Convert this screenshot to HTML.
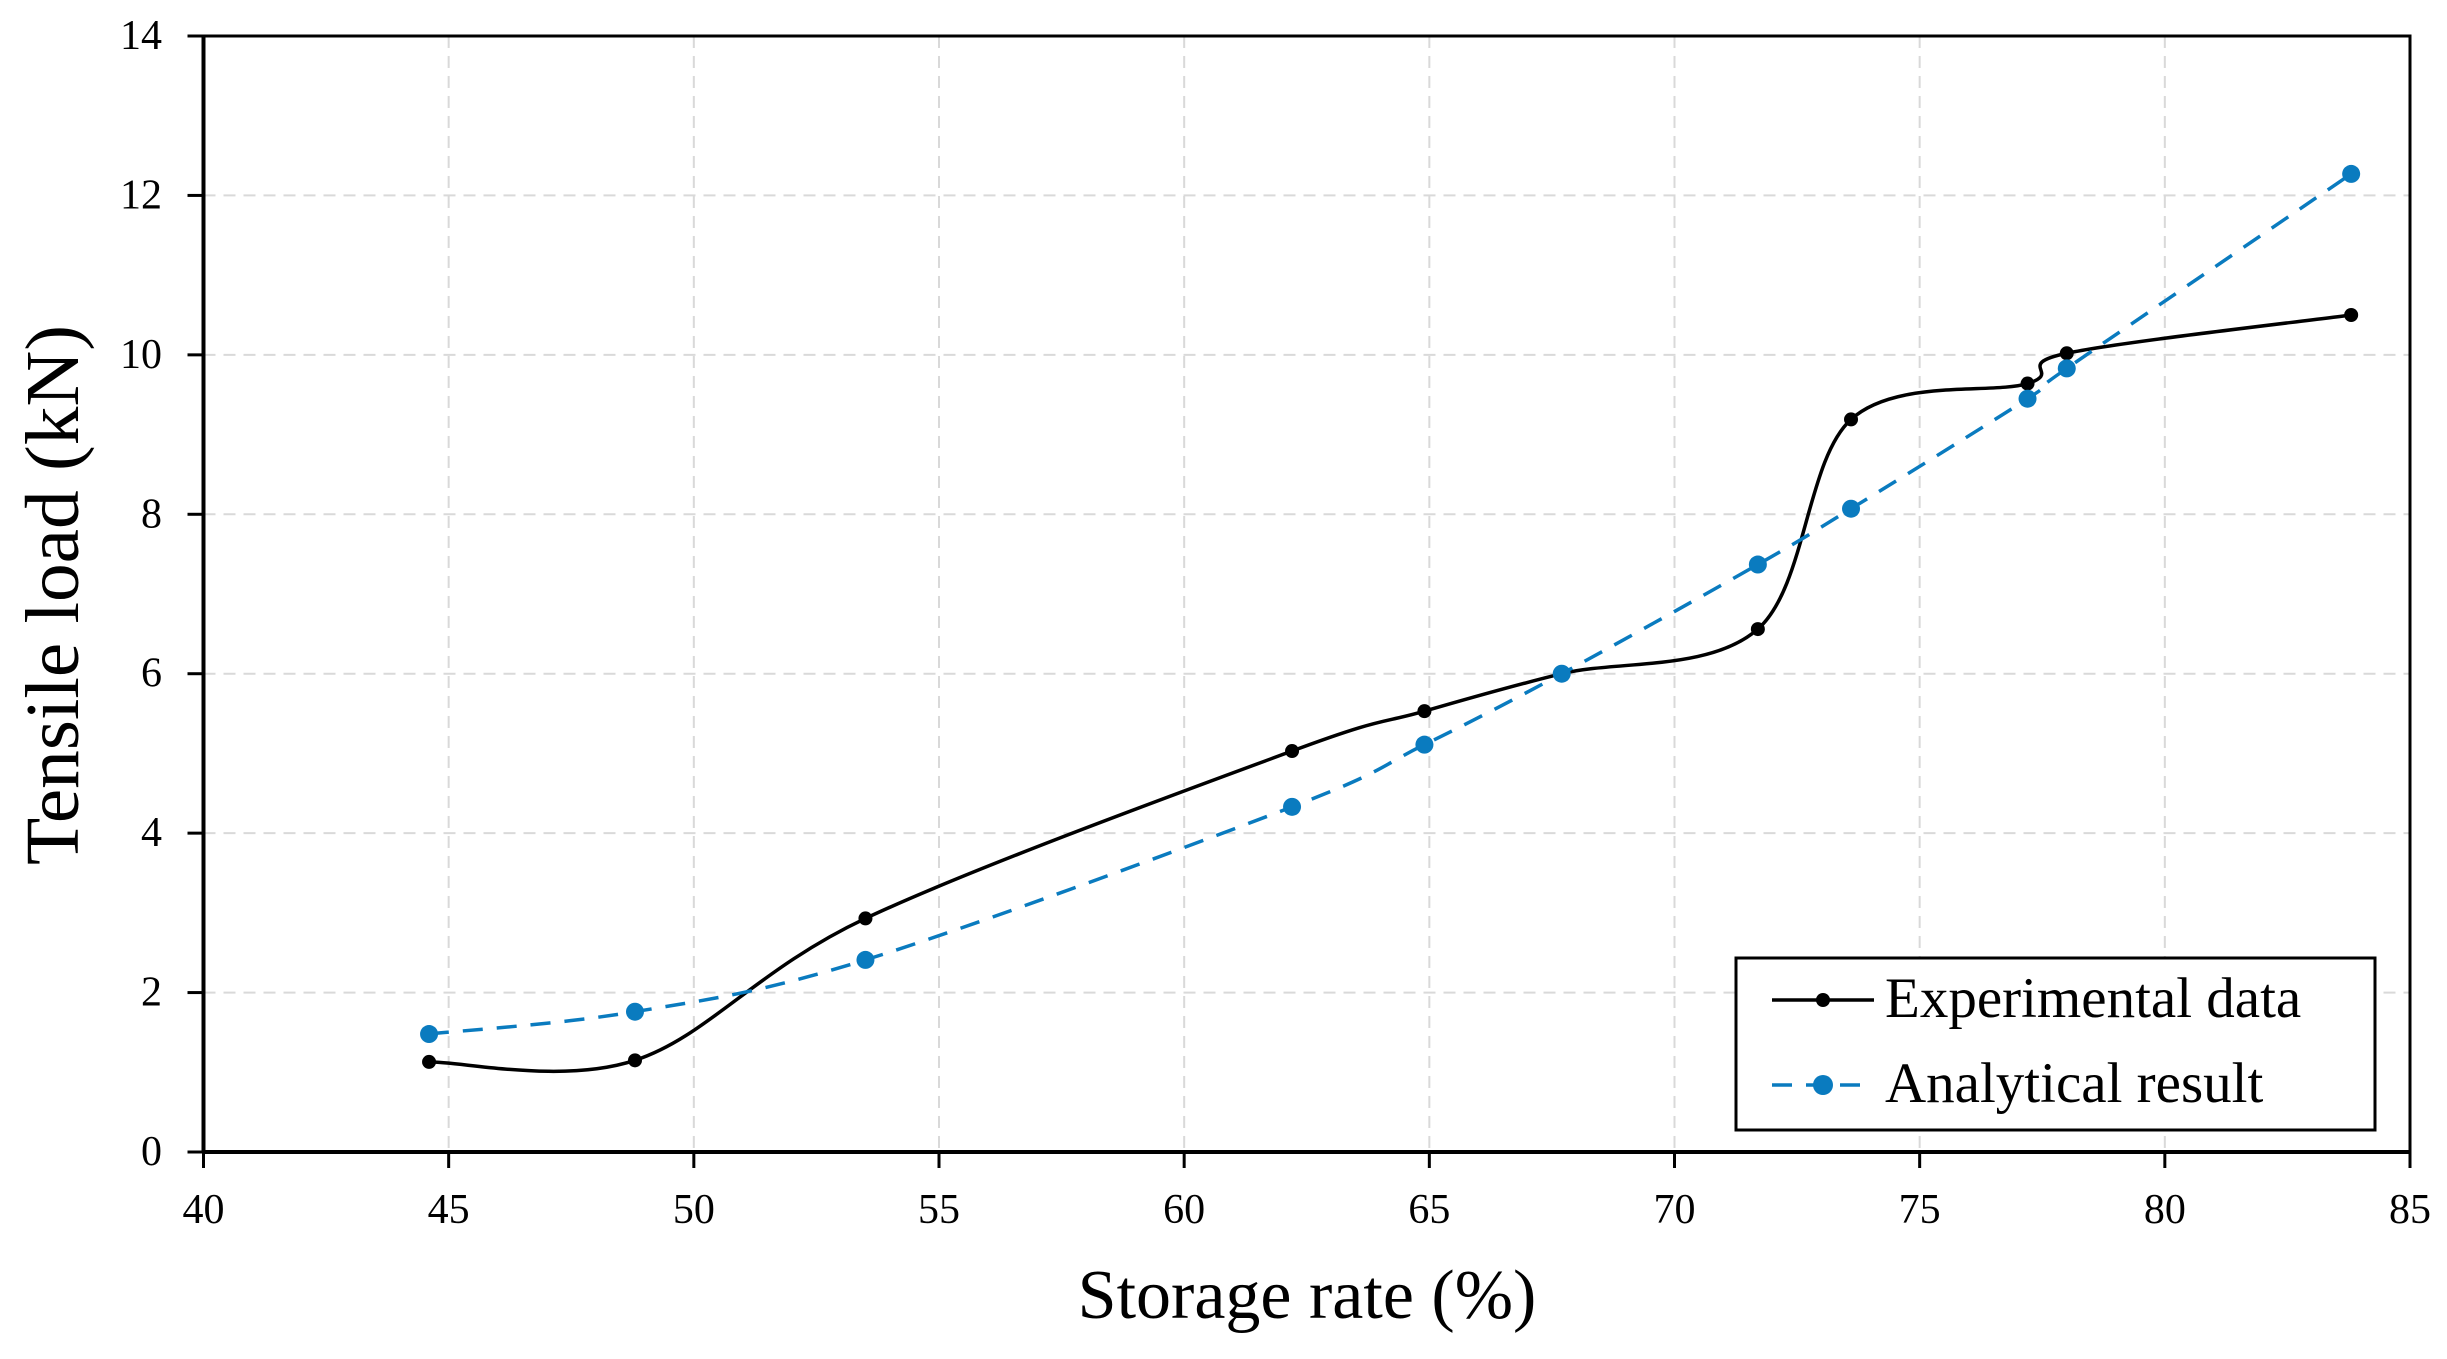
<!DOCTYPE html>
<html><head><meta charset="utf-8"><style>
html,body{margin:0;padding:0;background:#fff;}
svg{display:block;font-family:"Liberation Serif",serif;}
</style></head><body>
<svg id="chart" width="2447" height="1359" viewBox="0 0 2447 1359" xmlns="http://www.w3.org/2000/svg">
<rect width="2447" height="1359" fill="#fff"/>
<g id="grid"></g>
<g id="axes"></g>
<g id="series"></g>
<text x="1307" y="1318" font-size="70" text-anchor="middle">Storage rate (%)</text>
<text transform="translate(78,595) rotate(-90)" font-size="76" text-anchor="middle" textLength="540" lengthAdjust="spacingAndGlyphs">Tensile load (kN)</text>
<g>
<rect x="1736" y="958" width="639" height="172" fill="#fff" stroke="#000" stroke-width="3"/>
<g>
<line x1="1772" y1="1000" x2="1874" y2="1000" stroke="#000" stroke-width="3.5"/>
<circle cx="1823" cy="1000" r="7" fill="#000"/>
<text x="1885" y="1017" font-size="57">Experimental data</text>
</g>
<g>
<line x1="1772" y1="1085" x2="1874" y2="1085" stroke="#0a7bbf" stroke-width="3.5" stroke-dasharray="20,14"/>
<circle cx="1823" cy="1085" r="10" fill="#0a7bbf"/>
<text x="1885" y="1102" font-size="57">Analytical result</text>
</g>
</g>
</svg>
<script>
const xValues = [44.6, 48.8, 53.5, 62.2, 64.9, 67.7, 71.7, 73.6, 77.2, 78.0, 83.8];
const experimental = [1.13, 1.15, 2.93, 5.03, 5.53, 6.0, 6.56, 9.19, 9.64, 10.02, 10.5];
const analytical = [1.48, 1.76, 2.41, 4.33, 5.11, 6.0, 7.37, 8.07, 9.45, 9.83, 12.27];
const xTicks = [40, 45, 50, 55, 60, 65, 70, 75, 80, 85];
const yTicks = [0, 2, 4, 6, 8, 10, 12, 14];

const L = 203.5, R = 2410, T = 36, B = 1152;
const xMin = 40, xMax = 85, yMin = 0, yMax = 14;
const sx = v => L + (v - xMin) / (xMax - xMin) * (R - L);
const sy = v => B - (v - yMin) / (yMax - yMin) * (B - T);
const NS = "http://www.w3.org/2000/svg";
function mk(tag, attrs, parent) {
  const e = document.createElementNS(NS, tag);
  for (const k in attrs) e.setAttribute(k, attrs[k]);
  parent.appendChild(e);
  return e;
}
const grid = document.getElementById('grid');
const axes = document.getElementById('axes');
const series = document.getElementById('series');

yTicks.forEach(t => {
  if (t > yMin && t < yMax) {
    const g = mk('line', {x1: L, x2: R, y1: sy(t), y2: sy(t), stroke: '#d9d9d9', 'stroke-width': 2, 'stroke-dasharray': '12,8'}, grid);
    
    
  }
  const tk = mk('line', {x1: L - 16, x2: L, y1: sy(t), y2: sy(t), stroke: '#000', 'stroke-width': 3}, axes);
  
  
  const lb = mk('text', {x: 162, y: sy(t) + 13, 'font-size': 42, 'text-anchor': 'end'}, axes);
  lb.textContent = t;
  
  
});
xTicks.forEach(t => {
  if (t > xMin && t < xMax) {
    const g = mk('line', {x1: sx(t), x2: sx(t), y1: T, y2: B, stroke: '#d9d9d9', 'stroke-width': 2, 'stroke-dasharray': '12,8'}, grid);
    
    
  }
  const tk = mk('line', {x1: sx(t), x2: sx(t), y1: B, y2: B + 16, stroke: '#000', 'stroke-width': 3}, axes);
  
  
  const lb = mk('text', {x: sx(t), y: 1223, 'font-size': 42, 'text-anchor': 'middle'}, axes);
  lb.textContent = t;
  
  
});
const frame = mk('path', {d: `M${L},${T} H${R} V${B}`, fill: 'none', stroke: '#000', 'stroke-width': 3}, axes);


const xa = mk('line', {x1: L, x2: R, y1: B, y2: B, stroke: '#000', 'stroke-width': 4}, axes);


const ya = mk('line', {x1: L, x2: L, y1: T, y2: B, stroke: '#000', 'stroke-width': 4}, axes);



function smoothPath(pts) {
  let d = `M${pts[0][0]},${pts[0][1]}`;
  for (let i = 0; i < pts.length - 1; i++) {
    const p0 = pts[Math.max(0, i - 1)], p1 = pts[i], p2 = pts[i + 1], p3 = pts[Math.min(pts.length - 1, i + 2)];
    const c1x = p1[0] + (p2[0] - p0[0]) / 6, c1y = p1[1] + (p2[1] - p0[1]) / 6;
    const c2x = p2[0] - (p3[0] - p1[0]) / 6, c2y = p2[1] - (p3[1] - p1[1]) / 6;
    d += ` C${c1x},${c1y} ${c2x},${c2y} ${p2[0]},${p2[1]}`;
  }
  return d;
}
function drawSeries(vals, color, dash, r, name) {
  const pts = xValues.map((x, i) => [sx(x), sy(vals[i])]);
  const attrs = {d: smoothPath(pts), fill: 'none', stroke: color, 'stroke-width': 3.5};
  if (dash) attrs['stroke-dasharray'] = dash;
  const p = mk('path', attrs, series);
  
  
  pts.forEach(pt => {
    const c = mk('circle', {cx: pt[0], cy: pt[1], r: r, fill: color}, series);
    
    
  });
}
drawSeries(experimental, '#000', null, 7, 'experimental');
drawSeries(analytical, '#0a7bbf', '20,14', 9, 'analytical');
</script>
</body></html>
